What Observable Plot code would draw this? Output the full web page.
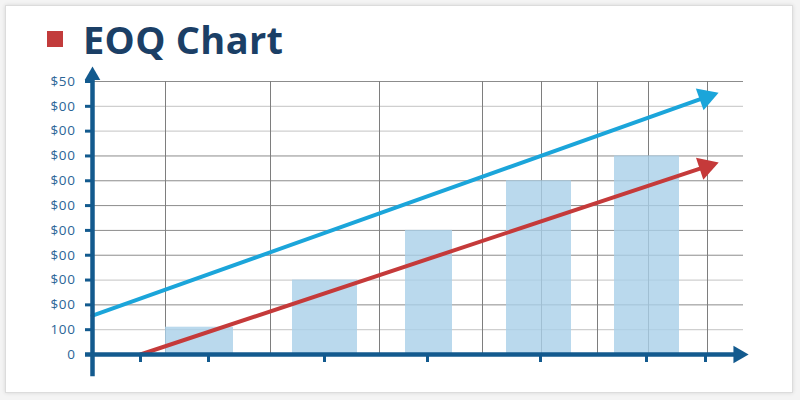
<!DOCTYPE html>
<html>
<head>
<meta charset="utf-8">
<script src="https://cdn.jsdelivr.net/npm/d3@7"></script>
<script src="https://cdn.jsdelivr.net/npm/@observablehq/plot@0.6"></script>
<style>
  html, body { margin: 0; padding: 0; width: 800px; height: 400px; background: #f4f4f4; overflow: hidden; }
  #card { position: absolute; left: 5px; top: 5px; width: 786px; height: 386px; background: #fff;
          border: 1px solid #dcdcdc; box-shadow: 0 0 4px rgba(0,0,0,0.12); }
  #title { position: absolute; left: 47px; top: 14px; height: 50px; display: flex; align-items: center;
           font-family: "Open Sans", sans-serif; font-weight: 700; font-size: 38px; color: #1b3f66; letter-spacing: 0.3px; }
  #title .sq { display: inline-block; width: 16px; height: 16px; background: #c23b3b; margin-right: 20px; }
  #chart { position: absolute; left: 0; top: 0; }
  #chart svg g[aria-label="y-axis tick label"] text { letter-spacing: 0.6px; }
</style>
</head>
<body>
<div id="card"></div>
<div id="title"><span class="sq"></span><span>EOQ Chart</span></div>
<div id="chart"></div>
<script>
// ---- data ----
const yTicks = [0, 1, 2, 3, 4, 5, 6, 7, 8, 9, 10, 11];
const yLabels = ["0", "100", "$00", "$00", "$00", "$00", "$00", "$00", "$00", "$00", "$00", "$50"];
const xTicks = [96, 232, 464, 670, 896, 1108, 1226];
const gridXValues = [146, 356, 574, 780, 898, 1010, 1112, 1230];
const gridYDark = [2, 4, 5, 6, 7, 8, 11];
const gridYLight = [1, 3, 9, 10];
const barStart = [146, 400, 626, 828, 1044];
const barEnd = [282, 530, 720, 958, 1174];
const barValue = [1.1, 3.0, 5.0, 7.0, 8.0];
const blueQ = [0, 1227];
const blueC = [1.57, 10.37];
const redQ = [96, 1227];
const redC = [0, 7.57];

const bars = barStart.map((s, i) => ({x1: s, x2: barEnd[i], y: barValue[i]}));
const blue = blueQ.map((q, i) => ({q, c: blueC[i]}));
const red = redQ.map((q, i) => ({q, c: redC[i]}));

const axisColor = "#135a8e";
const labelColor = "#2b6596";

const chart = Plot.plot({
  width: 800,
  height: 400,
  marginLeft: 92,
  marginRight: 57,
  marginTop: 81,
  marginBottom: 46,
  style: {background: "transparent", fontFamily: "'Open Sans', sans-serif"},
  x: {domain: [0, 1302], axis: null},
  y: {domain: [0, 11], axis: null},
  marks: [
    // grid
    Plot.ruleY(gridYLight, {x1: 0, x2: 1302, stroke: "#cfcfcf", strokeWidth: 1.2}),
    Plot.ruleY(gridYDark, {x1: 0, x2: 1302, stroke: "#8c8c8c", strokeWidth: 1}),
    Plot.ruleX(gridXValues, {y1: 0, y2: 11, stroke: "#7e7e7e", strokeWidth: 1}),
    // bars
    Plot.rectY(bars, {x1: "x1", x2: "x2", y: "y", fill: "#a9cfe8", fillOpacity: 0.8}),
    // lines
    Plot.line(blue, {x: "q", y: "c", stroke: "#1ba5da", strokeWidth: 4}),
    Plot.dot(blue.slice(-1), {x: "q", y: "c", symbol: "triangle", r: 8.6, fill: "#1ba5da", rotate: 70.4}),
    Plot.line(red, {x: "q", y: "c", stroke: "#c53a3a", strokeWidth: 4}),
    Plot.dot(red.slice(-1), {x: "q", y: "c", symbol: "triangle", r: 8.6, fill: "#c53a3a", rotate: 71.6}),
    // axes
    Plot.axisY({ticks: yTicks, tickFormat: d => yLabels[d], tickSize: 7, tickPadding: 10,
                stroke: axisColor, strokeWidth: 3, fill: labelColor, fontSize: 13.5, anchor: "left"}),
    Plot.axisX({ticks: xTicks, tickFormat: () => "", tickSize: 8, stroke: axisColor, strokeWidth: 3, anchor: "bottom"}),
    Plot.ruleX([0], {y1: -0.9, y2: 11.1, stroke: axisColor, strokeWidth: 4.5}),
    Plot.dot([{x: 0, y: 11.24}], {x: "x", y: "y", symbol: "triangle", r: 5.8, fill: axisColor}),
    Plot.ruleY([0], {x1: -14, x2: 1285, stroke: axisColor, strokeWidth: 4.5}),
    Plot.dot([{x: 1292, y: 0}], {x: "x", y: "y", symbol: "triangle", r: 6.5, fill: axisColor, rotate: 90})
  ]
});
document.getElementById("chart").appendChild(chart);
</script>
</body>
</html>
